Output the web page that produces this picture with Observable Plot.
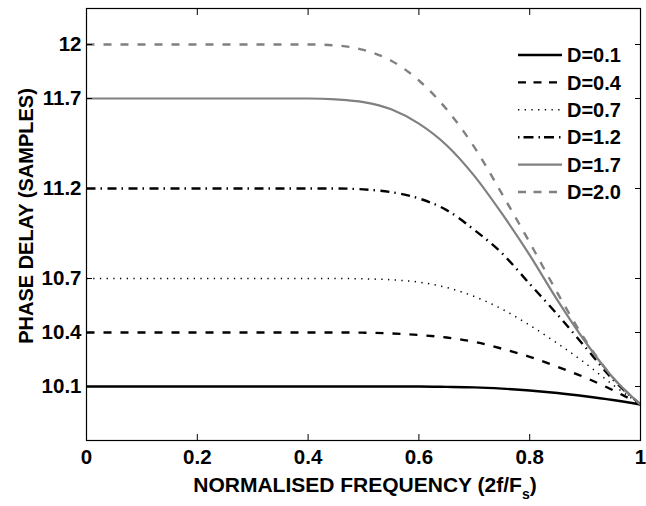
<!DOCTYPE html>
<html>
<head>
<meta charset="utf-8">
<script src="https://cdn.jsdelivr.net/npm/d3@7"></script>
<script src="https://cdn.jsdelivr.net/npm/@observablehq/plot@0.6"></script>
<style>
  html, body { margin: 0; padding: 0; background: #fff; }
  #chart { width: 646px; height: 506px; }
</style>
</head>
<body>
<div id="chart"></div>
<script>
// ---- data ----
const freq = [0, 0.1, 0.2, 0.3, 0.4, 0.45, 0.5, 0.55, 0.6, 0.65, 0.7, 0.75, 0.8, 0.85, 0.9, 0.95, 1.0];
const delayD01 = [10.1, 10.1, 10.1, 10.1, 10.1, 10.1, 10.1, 10.1, 10.1, 10.098, 10.095, 10.088, 10.078, 10.064, 10.046, 10.025, 10.0];
const delayD04 = [10.4, 10.4, 10.4, 10.4, 10.4, 10.4, 10.399, 10.395, 10.386, 10.372, 10.348, 10.31, 10.265, 10.21, 10.15, 10.08, 10.0];
const delayD07 = [10.7, 10.7, 10.7, 10.7, 10.7, 10.7, 10.698, 10.693, 10.68, 10.65, 10.6, 10.53, 10.44, 10.34, 10.23, 10.11, 10.0];
const delayD12 = [11.2, 11.2, 11.2, 11.2, 11.2, 11.2, 11.195, 11.18, 11.145, 11.08, 10.97, 10.84, 10.67, 10.5, 10.32, 10.14, 10.0];
const delayD17 = [11.7, 11.7, 11.7, 11.7, 11.7, 11.695, 11.68, 11.64, 11.56, 11.44, 11.27, 11.06, 10.83, 10.58, 10.35, 10.15, 10.0];
const delayD20 = [12.0, 12.0, 12.0, 12.0, 12.0, 11.995, 11.97, 11.91, 11.8, 11.64, 11.43, 11.17, 10.9, 10.62, 10.36, 10.15, 10.0];
const seriesNames = ["D=0.1", "D=0.4", "D=0.7", "D=1.2", "D=1.7", "D=2.0"];
const seriesValues = [delayD01, delayD04, delayD07, delayD12, delayD17, delayD20];
const xTicks = [0, 0.2, 0.4, 0.6, 0.8, 1];
const xTickLabels = ["0", "0.2", "0.4", "0.6", "0.8", "1"];
const yTicks = [10.1, 10.4, 10.7, 11.2, 11.7, 12];
const yTickLabels = ["10.1", "10.4", "10.7", "11.2", "11.7", "12"];
const xLabel = "NORMALISED FREQUENCY (2f/F";
const xLabelSub = "s";
const xLabelEnd = ")";
const yLabel = "PHASE DELAY (SAMPLES)";

// ---- styles ----
const GRAY = "#808080";
const lineStyles = [
  {stroke: "#000", width: 2.4, dash: null, legendDash: null},
  {stroke: "#000", width: 2.4, dash: "8,9", legendDash: "8,7.5"},
  {stroke: "#000", width: 1.5, dash: "1.3,5.4", legendDash: "1.3,5.4"},
  {stroke: "#000", width: 2.4, dash: "9,5,1.5,5.5", legendDash: "1.5,4,10,5"},
  {stroke: GRAY, width: 2.2, dash: null, legendDash: null},
  {stroke: GRAY, width: 2.4, dash: "8,9", legendDash: "8,7.5"}
];
const FONT = "'Liberation Sans', Arial, Helvetica, sans-serif";

// ---- table ----
const rows = [];
seriesNames.forEach((name, s) => {
  freq.forEach((f, i) => rows.push({series: name, f, delay: seriesValues[s][i]}));
});

const lineMarks = seriesNames.map((name, s) =>
  Plot.line(rows.filter(d => d.series === name), {
    x: "f", y: "delay", curve: "monotone-x",
    stroke: lineStyles[s].stroke,
    strokeWidth: lineStyles[s].width,
    strokeDasharray: lineStyles[s].dash,
    strokeLinecap: "butt", strokeLinejoin: "round"
  })
);

const xLab = new Map(xTicks.map((t, i) => [t, xTickLabels[i]]));
const yLab = new Map(yTicks.map((t, i) => [t, yTickLabels[i]]));

const plot = Plot.plot({
  width: 646, height: 506,
  marginLeft: 86, marginRight: 6, marginTop: 8, marginBottom: 66,
  style: {fontFamily: FONT, fontSize: "20.5px", fontWeight: "bold", color: "#000", background: "#fff", overflow: "visible"},
  x: {domain: [0, 1]},
  y: {domain: [9.8, 12.2]},
  marks: [
    ...lineMarks,
    Plot.frame({stroke: "#000", strokeWidth: 1.2}),
    Plot.axisX({ticks: xTicks, tickFormat: d => xLab.get(d), tickSize: -6, tickPadding: 15, label: null}),
    Plot.axisX({anchor: "top", ticks: xTicks, tickFormat: () => "", tickSize: -6, label: null}),
    Plot.axisY({ticks: yTicks, tickFormat: d => yLab.get(d), tickSize: -6, tickPadding: 11, label: null}),
    Plot.axisY({anchor: "right", ticks: yTicks, tickFormat: () => "", tickSize: -6, label: null})
  ]
});

const svg = d3.select(plot);

// axis labels
const xl = svg.append("text")
  .attr("x", 365).attr("y", 492)
  .attr("text-anchor", "middle")
  .style("font-family", FONT).style("font-size", "21px").style("font-weight", "bold").attr("fill", "#000");
xl.append("tspan").text(xLabel);
xl.append("tspan").attr("dy", 7).style("font-size", "14px").text(xLabelSub);
xl.append("tspan").attr("dy", -7).text(xLabelEnd);

svg.append("text")
  .attr("transform", "translate(33,216) rotate(-90)")
  .attr("text-anchor", "middle")
  .style("font-family", FONT).style("font-size", "20px").style("font-weight", "bold").attr("fill", "#000")
  .text(yLabel);

// legend
const lg = svg.append("g");
seriesNames.forEach((name, s) => {
  const y = 55 + s * 27.4;
  lg.append("line")
    .attr("x1", 518).attr("x2", 562).attr("y1", y).attr("y2", y)
    .attr("stroke", lineStyles[s].stroke)
    .attr("stroke-width", lineStyles[s].width)
    .attr("stroke-dasharray", lineStyles[s].legendDash);
  lg.append("text")
    .attr("x", 567).attr("y", y + 7.2)
    .attr("text-anchor", "start")
    .style("font-family", FONT).style("font-size", "20px").style("font-weight", "bold").attr("fill", "#000")
    .text(name);
});

document.getElementById("chart").appendChild(plot);
</script>
</body>
</html>
